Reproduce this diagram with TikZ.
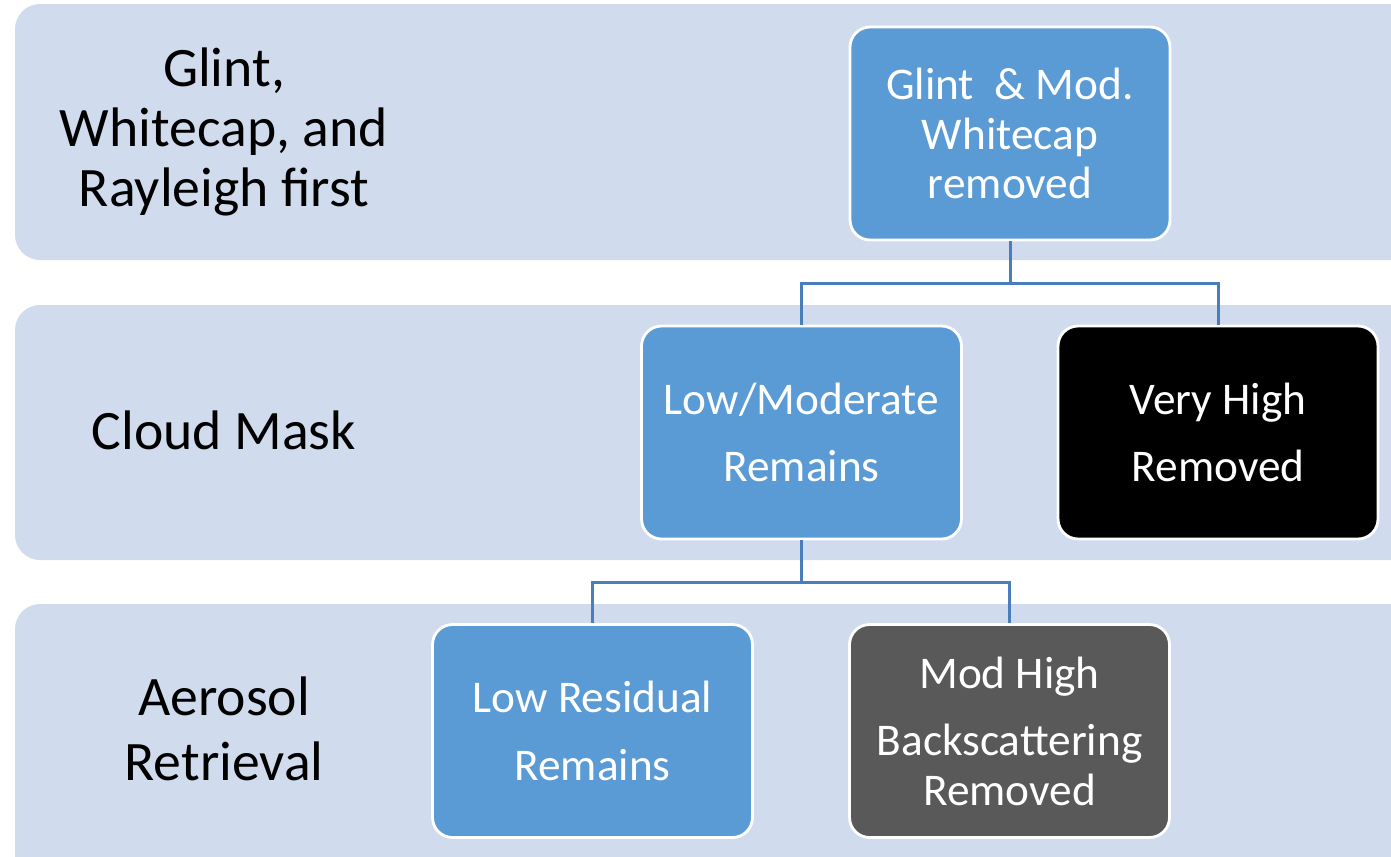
\documentclass[tikz,border=0pt]{standalone}
\usepackage{fontspec}
\setmainfont{Carlito}
\usetikzlibrary{positioning}

\definecolor{bandblue}{RGB}{208,220,238}
\definecolor{boxblue}{RGB}{91,155,213}
\definecolor{boxgray}{RGB}{89,89,89}
\definecolor{linkblue}{RGB}{74,126,187}

\tikzset{
  band/.style={fill=bandblue, draw=none, rounded corners=0.5cm},
  stage/.style={rounded corners=0.4cm, draw=white, line width=1.6pt, text=white,
    minimum width=6.4cm, minimum height=4.26cm, align=center, inner sep=0pt},
  rowlabel/.style={align=center, font=\fontsize{31.7}{34}\selectfont},
  link/.style={draw=linkblue, line width=1.7pt}
}

\begin{document}
\begin{tikzpicture}[x=0.02cm, y=-0.02cm]

  \clip (0,0) rectangle (1391,856);

  % rows
  \fill[band] (15,4) rectangle (1430,260);
  \fill[band] (15,305) rectangle (1430,560);
  \fill[band] (15,604) rectangle (1430,900);

  \node[rowlabel] (lblfirst) at (224,132) {Glint,\\Whitecap, and\\Rayleigh first};
  \node[rowlabel] (lblcloud) at (224,430) {Cloud Mask};
  \node[rowlabel, font=\fontsize{31.7}{36.8}\selectfont] (lblaero) at (224,729) {Aerosol\\Retrieval};

  % boxes
  \node[stage, fill=boxblue, font=\fontsize{25.8}{28.3}\selectfont] (glint) at (1010,133.5)
    {Glint\ \ \& Mod.\\Whitecap\\removed};
  \node[stage, fill=boxblue, font=\fontsize{25.8}{38.5}\selectfont] (lowmod) at (801.5,432.5)
    {Low/Moderate\\Remains};
  \node[stage, fill=black, font=\fontsize{25.8}{38.5}\selectfont] (veryhigh) at (1218,432.5)
    {Very High\\Removed};
  \node[stage, fill=boxblue, font=\fontsize{25.8}{38.5}\selectfont] (lowres) at (592.5,731)
    {Low Residual\\Remains};
  \node[stage, fill=boxgray, font=\fontsize{25.8}{28.3}\selectfont] (modhigh) at (1009.5,731)
    {Mod High\\[10pt]Backscattering\\Removed};

  % tree lines
  \draw[link] (glint.south) -- ++(0,42) -| (lowmod.north);
  \draw[link] (glint.south) -- ++(0,42) -| (veryhigh.north);
  \draw[link] (lowmod.south) -- ++(0,42) -| (lowres.north);
  \draw[link] (lowmod.south) -- ++(0,42) -| (modhigh.north);

\end{tikzpicture}
\end{document}
